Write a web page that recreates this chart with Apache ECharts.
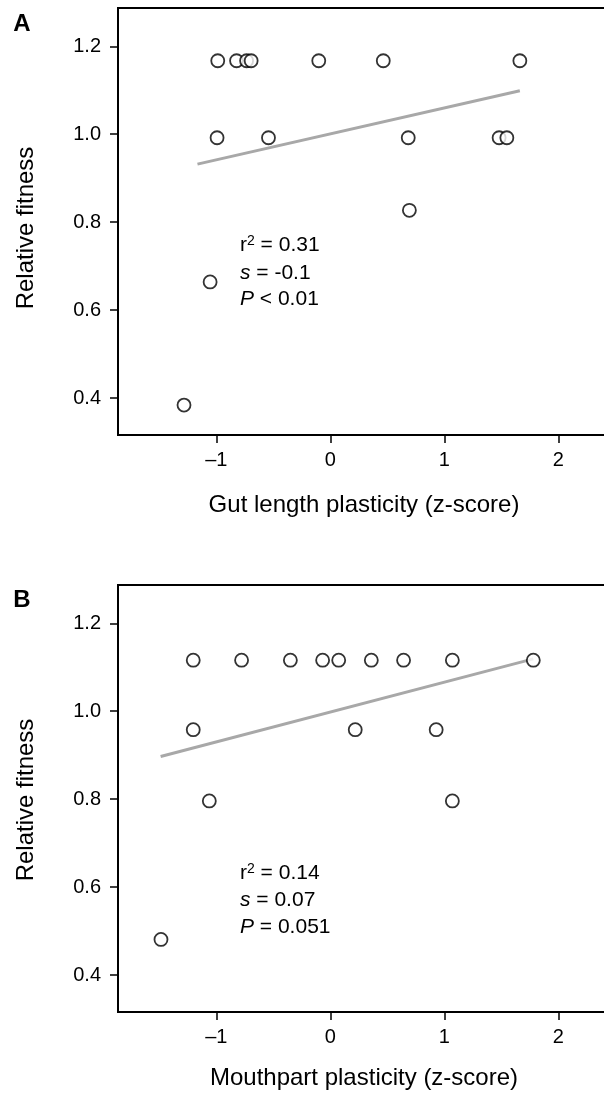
<!DOCTYPE html>
<html>
<head>
<meta charset="utf-8">
<script src="https://cdn.jsdelivr.net/npm/echarts@6/dist/echarts.min.js"></script>
<style>
  html, body { margin: 0; padding: 0; background: #fff; }
  #chart { width: 604px; height: 1093px; }
</style>
</head>
<body>
<div id="chart"></div>
<script>
// panel A: gut length plasticity vs relative fitness
var gutX = [-0.987, -0.822, -0.734, -0.694, -0.101, 0.465, 1.663,
            -0.993, -0.542, 0.684, 1.481, 1.549,
            0.694, -1.054, -1.283];
var gutY = [1.167, 1.167, 1.167, 1.167, 1.167, 1.167, 1.167,
            0.992, 0.992, 0.992, 0.992, 0.992,
            0.827, 0.664, 0.384];
var gutFitX = [-1.165, 1.663];
var gutFitY = [0.932, 1.099];

// panel B: mouthpart plasticity vs relative fitness
var mouthX = [-1.202, -0.778, -0.350, -0.067, 0.074, 0.360, 0.643, 1.071, 1.781,
              -1.202, 0.219, 0.929,
              -1.061, 1.071, -1.485];
var mouthY = [1.116, 1.116, 1.116, 1.116, 1.116, 1.116, 1.116, 1.116, 1.116,
              0.958, 0.958, 0.958,
              0.796, 0.796, 0.481];
var mouthFitX = [-1.488, 1.781];
var mouthFitY = [0.897, 1.119];

var xTicks = [-1, 0, 1, 2];
var yTicks = [0.4, 0.6, 0.8, 1.0, 1.2];

var FONT = 'Liberation Sans, Arial, sans-serif';

function pairs(xs, ys) {
    var arr = [];
    xs.map(function (x, i) { arr.push([x, ys[i]]); });
    return arr;
}

function xAxisFor(idx) {
    return {
        type: 'value', gridIndex: idx,
        min: -1.862, max: 2.559,
        splitLine: { show: false },
        axisLine: { show: true, onZero: false, lineStyle: { color: '#000', width: 2 } },
        axisTick: { show: true, customValues: xTicks, length: 8, lineStyle: { color: '#000', width: 1.5 } },
        axisLabel: {
            customValues: xTicks, margin: 15, color: '#000', fontSize: 20, fontFamily: FONT,
            formatter: function (v) { return v < 0 ? '\u2013' + Math.abs(v) : String(v); }
        }
    };
}

function yAxisFor(idx) {
    return {
        type: 'value', gridIndex: idx,
        min: 0.316, max: 1.287,
        splitLine: { show: false },
        axisLine: { show: true, onZero: false, lineStyle: { color: '#000', width: 2 } },
        axisTick: { show: true, customValues: yTicks, length: 8, lineStyle: { color: '#000', width: 1.5 } },
        axisLabel: {
            customValues: yTicks, margin: 17, color: '#000', fontSize: 20, fontFamily: FONT,
            formatter: function (v) { return v.toFixed(1); }
        }
    };
}

function scatter(idx, xs, ys) {
    return {
        type: 'scatter', xAxisIndex: idx, yAxisIndex: idx,
        data: pairs(xs, ys),
        symbol: 'circle', symbolSize: 13,
        itemStyle: { color: '#fff', borderColor: '#000', borderWidth: 1.8 },
        z: 3
    };
}

function fitLine(idx, xs, ys) {
    return {
        type: 'line', xAxisIndex: idx, yAxisIndex: idx,
        data: pairs(xs, ys),
        showSymbol: false, symbol: 'none',
        lineStyle: { color: '#a8a8a8', width: 3 },
        z: 2
    };
}

function txt(x, y, text, opts) {
    var style = {
        x: x, y: y, text: text,
        fill: '#000', font: (opts && opts.font) || ('21px ' + FONT),
        align: (opts && opts.align) || 'left',
        verticalAlign: 'middle',
        rich: {
            i: { fontStyle: 'italic', fontSize: 21, fontFamily: FONT, fill: '#000', lineHeight: 22 },
            n: { fontSize: 21, fontFamily: FONT, fill: '#000', lineHeight: 22 },
            sup: { fontSize: 14, fontFamily: FONT, fill: '#000', lineHeight: 22, verticalAlign: 'top' }
        }
    };
    var el = { type: 'text', style: style, z: 10 };
    if (opts && opts.rotation) { el.rotation = opts.rotation; el.x = x; el.y = y; style.x = 0; style.y = 0; }
    return el;
}

var chart = echarts.init(document.getElementById('chart'), null, { renderer: 'canvas' });

var option = {
    animation: false,
    backgroundColor: '#fff',
    grid: [
        { left: 118, top: 8, width: 504, height: 427, outerBoundsMode: 'none', containLabel: false,
          show: true, borderColor: '#000', borderWidth: 2, backgroundColor: 'transparent' },
        { left: 118, top: 585, width: 504, height: 427, outerBoundsMode: 'none', containLabel: false,
          show: true, borderColor: '#000', borderWidth: 2, backgroundColor: 'transparent' }
    ],
    xAxis: [xAxisFor(0), xAxisFor(1)],
    yAxis: [yAxisFor(0), yAxisFor(1)],
    series: [
        fitLine(0, gutFitX, gutFitY),
        scatter(0, gutX, gutY),
        fitLine(1, mouthFitX, mouthFitY),
        scatter(1, mouthX, mouthY)
    ],
    graphic: [
        txt(22, 24, 'A', { font: 'bold 24px ' + FONT, align: 'center' }),
        txt(22, 600, 'B', { font: 'bold 24px ' + FONT, align: 'center' }),
        txt(26, 228, 'Relative fitness', { font: '24px ' + FONT, align: 'center', rotation: Math.PI / 2 }),
        txt(26, 800, 'Relative fitness', { font: '24px ' + FONT, align: 'center', rotation: Math.PI / 2 }),
        txt(364, 505, 'Gut length plasticity (z-score)', { font: '24px ' + FONT, align: 'center' }),
        txt(364, 1078, 'Mouthpart plasticity (z-score)', { font: '24px ' + FONT, align: 'center' }),
        txt(240, 245, '{n|r}{sup|2}{n| = 0.31}'),
        txt(240, 273, '{i|s}{n| = -0.1}'),
        txt(240, 299, '{i|P}{n| < 0.01}'),
        txt(240, 873, '{n|r}{sup|2}{n| = 0.14}'),
        txt(240, 900, '{i|s}{n| = 0.07}'),
        txt(240, 927, '{i|P}{n| = 0.051}')
    ]
};

chart.setOption(option);
</script>
</body>
</html>
